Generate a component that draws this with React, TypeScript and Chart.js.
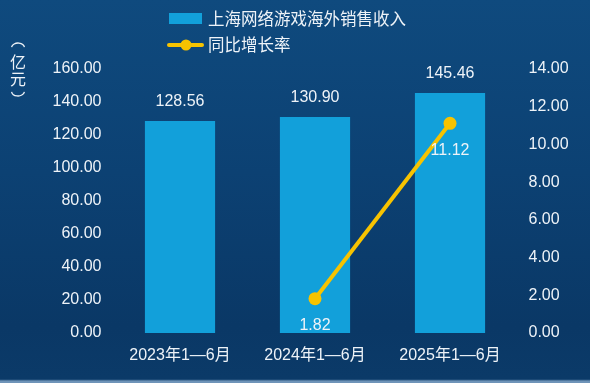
import React, { useEffect, useRef } from "react";
import { Chart, registerables } from "chart.js";

Chart.register(...registerables);

const categories = ["2023年1—6月", "2024年1—6月", "2025年1—6月"];
const revenue = [128.56, 130.9, 145.46];
const growth: (number | null)[] = [null, 1.82, 11.12];
const leftTicks = { min: 0, max: 160, step: 20 };
const rightTicks = { min: 0, max: 14, step: 2 };
const barLabel = "上海网络游戏海外销售收入";
const lineLabel = "同比增长率";
const unitLabel = ["亿", "元"];

const BAR_COLOR = "#12a0da";
const LINE_COLOR = "#f7c300";
const TEXT_COLOR = "#eef3f8";
const FONT = "'Liberation Sans', Arial, 'Noto Sans CJK SC', sans-serif";

const overlayPlugin = {
  id: "overlay",
  afterDatasetsDraw(chart: any) {
    const ctx = chart.ctx;
    ctx.save();
    ctx.fillStyle = TEXT_COLOR;
    ctx.textAlign = "center";
    ctx.textBaseline = "middle";
    ctx.font = `16px ${FONT}`;
    // bar value labels
    const barMeta = chart.getDatasetMeta(0);
    barMeta.data.forEach((el: any, i: number) => {
      ctx.fillText(revenue[i].toFixed(2), el.x, el.y - 19);
    });
    // line value labels
    const lineMeta = chart.getDatasetMeta(1);
    lineMeta.data.forEach((el: any, i: number) => {
      const v = growth[i];
      if (v == null) return;
      ctx.fillText(v.toFixed(2), el.x, el.y + 27);
    });
    // legend
    ctx.textAlign = "left";
    ctx.font = `16.5px 'Noto Sans CJK SC', sans-serif`;
    ctx.fillStyle = BAR_COLOR;
    ctx.fillRect(169, 13, 33, 11);
    ctx.fillStyle = TEXT_COLOR;
    ctx.fillText(barLabel, 208, 19);
    ctx.strokeStyle = LINE_COLOR;
    ctx.lineWidth = 4;
    ctx.lineCap = "round";
    ctx.beginPath();
    ctx.moveTo(169, 45);
    ctx.lineTo(202, 45);
    ctx.stroke();
    ctx.fillStyle = LINE_COLOR;
    ctx.beginPath();
    ctx.arc(186, 45, 5.5, 0, Math.PI * 2);
    ctx.fill();
    ctx.fillStyle = TEXT_COLOR;
    ctx.fillText(lineLabel, 208, 45);
    // unit label, vertical
    ctx.textAlign = "center";
    ctx.font = `16px 'Noto Sans CJK SC', sans-serif`;
    const ys = [62, 79];
    unitLabel.forEach((c, i) => ctx.fillText(c, 18, ys[i]));
    ctx.strokeStyle = TEXT_COLOR;
    ctx.lineWidth = 1.3;
    ctx.lineCap = "butt";
    // top vertical parenthesis ︵
    ctx.beginPath();
    ctx.ellipse(18, 48, 6.5, 5, 0, Math.PI * 1.05, Math.PI * 1.95);
    ctx.stroke();
    // bottom vertical parenthesis ︶
    ctx.beginPath();
    ctx.ellipse(18, 91, 6.5, 5, 0, Math.PI * 0.05, Math.PI * 0.95);
    ctx.stroke();
    ctx.restore();
  },
};

export default function App() {
  const canvasRef = useRef<HTMLCanvasElement | null>(null);

  useEffect(() => {
    document.body.style.margin = "0";
    const canvas = canvasRef.current!;
    const chart = new Chart(canvas, {
      type: "bar",
      data: {
        labels: categories,
        datasets: [
          {
            type: "bar",
            label: barLabel,
            data: revenue,
            backgroundColor: BAR_COLOR,
            borderWidth: 0,
            barPercentage: 0.52,
            categoryPercentage: 1,
            yAxisID: "y",
            order: 2,
          },
          {
            type: "line",
            label: lineLabel,
            data: growth,
            borderColor: LINE_COLOR,
            backgroundColor: LINE_COLOR,
            borderWidth: 4,
            pointRadius: 6.5,
            pointHoverRadius: 6.5,
            pointBorderWidth: 0,
            yAxisID: "y1",
            spanGaps: false,
            order: 1,
          } as any,
        ],
      },
      options: {
        responsive: false,
        animation: false,
        maintainAspectRatio: false,
        layout: { padding: { top: 69, left: 0, right: 0, bottom: 0 } },
        plugins: {
          legend: { display: false },
          tooltip: { enabled: false },
        },
        scales: {
          x: {
            grid: { display: false, drawTicks: false },
            border: { display: false },
            ticks: {
              color: TEXT_COLOR,
              font: { size: 16, family: FONT },
              padding: 13,
            },
            afterFit(scale: any) {
              scale.height = 50;
            },
          },
          y: {
            position: "left",
            min: leftTicks.min,
            max: leftTicks.max,
            grid: { display: false, drawTicks: false },
            border: { display: false },
            ticks: {
              stepSize: leftTicks.step,
              color: TEXT_COLOR,
              font: { size: 16, family: FONT },
              padding: 11,
              callback: (v: any) => Number(v).toFixed(2),
            },
            afterFit(scale: any) {
              scale.width = 112.5;
            },
          },
          y1: {
            position: "right",
            min: rightTicks.min,
            max: rightTicks.max,
            grid: { display: false, drawTicks: false },
            border: { display: false },
            ticks: {
              stepSize: rightTicks.step,
              color: TEXT_COLOR,
              font: { size: 16, family: FONT },
              padding: 11,
              callback: (v: any) => Number(v).toFixed(2),
            },
            afterFit(scale: any) {
              scale.width = 72.5;
            },
          },
        },
      },
      plugins: [overlayPlugin],
    });
    return () => chart.destroy();
  }, []);

  return (
    <div
      style={{
        position: "absolute",
        left: 0,
        top: 0,
        width: 590,
        height: 383,
        background:
          "linear-gradient(180deg, #0f4a7e 0%, #0c4173 45%, #0a3866 85%, #0b3a68 99%, #6f94b8 99.5%)",
        overflow: "hidden",
      }}
    >
      <canvas ref={canvasRef} width={590} height={383} style={{ display: "block" }} />
    </div>
  );
}
